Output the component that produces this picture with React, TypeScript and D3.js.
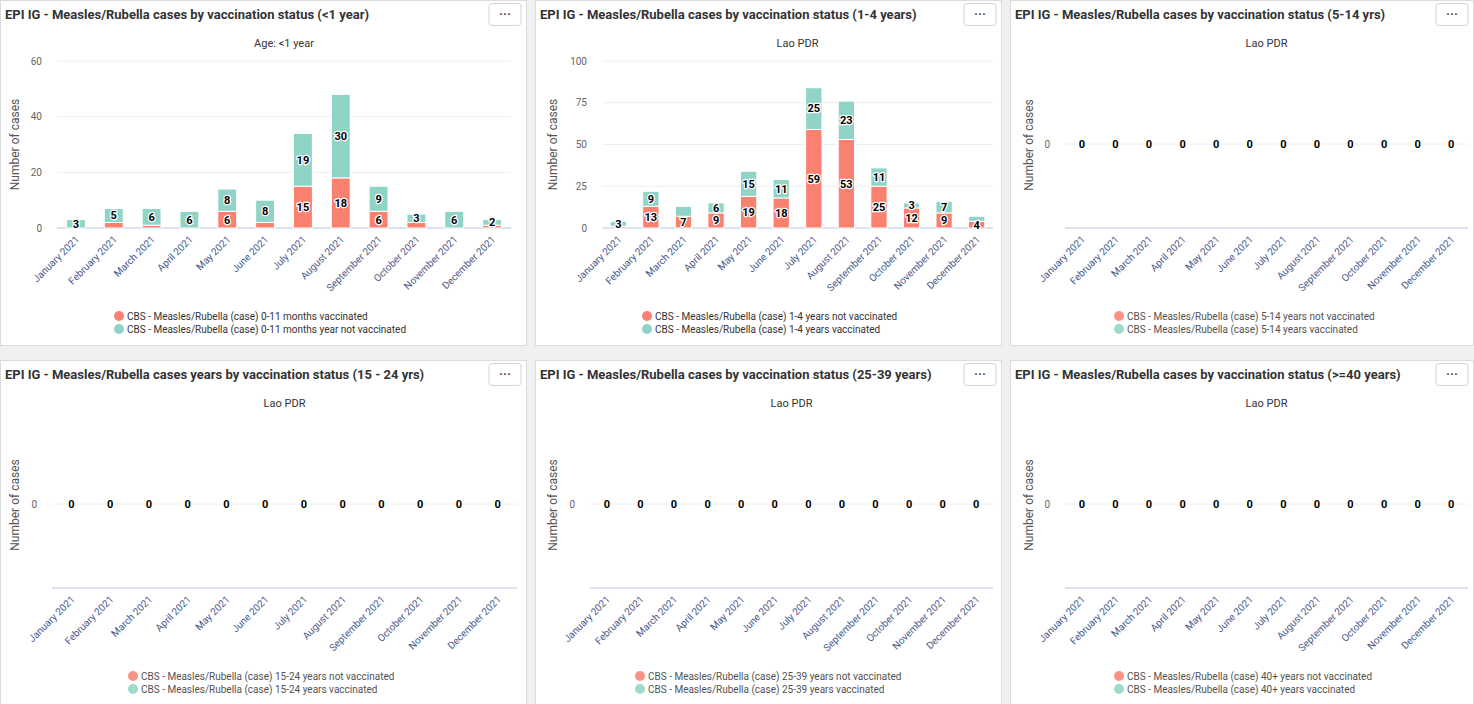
import React from 'react';
import * as d3 from 'd3';

const MONTHS = ['January 2021', 'February 2021', 'March 2021', 'April 2021', 'May 2021', 'June 2021',
  'July 2021', 'August 2021', 'September 2021', 'October 2021', 'November 2021', 'December 2021'];

// <1 year
const lt1Vaccinated = [0, 2, 1, 0, 6, 2, 15, 18, 6, 2, 0, 1];
const lt1NotVaccinated = [3, 5, 6, 6, 8, 8, 19, 30, 9, 3, 6, 2];
const lt1RedLabel = [false, false, false, false, true, false, true, true, true, false, false, false];
const lt1TealLabel = [true, true, true, true, true, true, true, true, true, true, true, true];

// 1-4 years
const y14NotVaccinated = [1, 13, 7, 9, 19, 18, 59, 53, 25, 12, 9, 4];
const y14Vaccinated = [3, 9, 6, 6, 15, 11, 25, 23, 11, 3, 7, 3];
const y14RedLabel = [false, true, true, true, true, true, true, true, true, true, true, true];
const y14TealLabel = [true, true, false, true, true, true, true, true, true, true, true, false];

const ZEROS = MONTHS.map(() => 0);
const NONE = MONTHS.map(() => false);

const RED = '#fa8070';
const TEAL = '#8fd4c6';

type PanelProps = {
  x: number; y: number; w: number; h: number;
  title: string; subtitle: string;
  legend: [string, string];
  red: number[]; teal: number[];
  redLabel: boolean[]; tealLabel: boolean[];
  yMax: number | null; ticks: number[];
  plotLeft: number; plotRight: number; legendX: number; yTitleX: number;
};

const Panel: React.FC<PanelProps> = p => {
  const empty = p.yMax === null;
  const axisY = 228;
  const x = d3.scaleBand<string>().domain(MONTHS).range([p.plotLeft, p.plotRight]).paddingInner(0.5).paddingOuter(0.25);
  const y = empty
    ? d3.scaleLinear().domain([-1, 1]).range([axisY, 60])
    : d3.scaleLinear().domain([0, p.yMax as number]).range([axisY, 61]);
  const plotMidY = empty ? 145 : (axisY + 61) / 2;
  const lbl = (cx: number, cy: number, v: number, key: string) => (
    <text key={key} x={cx} y={cy} dy="0.35em" textAnchor="middle" fontSize={11} fontWeight={700}
      fill="#000" stroke="#fff" strokeWidth={2.5} paintOrder="stroke" strokeLinejoin="round">{v}</text>
  );
  return (
    <g transform={`translate(${p.x},${p.y})`}>
      <rect x={0.5} y={0.5} width={p.w - 1} height={p.h - 1} fill="#fff" stroke="#dcdcdc" />
      <text x={5} y={19} fontSize={13} fontWeight={700} fill="#333">{p.title}</text>
      <rect x={p.w - 38} y={3.5} width={32} height={22} rx={3} fill="#fff" stroke="#d0d3d8" />
      <text x={p.w - 22} y={18} textAnchor="middle" fontSize={13} fontWeight={700} fill="#555">···</text>
      <text x={(p.plotLeft + p.plotRight) / 2} y={47} textAnchor="middle" fontSize={11} fill="#333">{p.subtitle}</text>
      <text transform={`translate(${p.yTitleX},${plotMidY}) rotate(-90)`} textAnchor="middle" fontSize={12} fill="#555">Number of cases</text>
      {p.ticks.map(t => (
        <g key={t}>
          <line x1={p.plotLeft} x2={p.plotRight} y1={y(t)} y2={y(t)} stroke="#eeeeee" />
          <text x={p.plotLeft - 15} y={y(t)} dy="0.35em" textAnchor="end" fontSize={10} fill="#666">{t}</text>
        </g>
      ))}
      <line x1={p.plotLeft} x2={p.plotRight} y1={axisY} y2={axisY} stroke="#dde2ee" strokeWidth={2} />
      {MONTHS.map((m, i) => {
        const bx = x(m) as number;
        const bw = x.bandwidth();
        const cx = bx + bw / 2;
        if (empty) return lbl(cx, y(0), 0, m);
        const r = p.red[i], t = p.teal[i];
        return (
          <g key={m}>
            {r > 0 && <rect x={bx} y={y(r)} width={bw} height={y(0) - y(r)} fill={RED} stroke="#fff" strokeWidth={1} />}
            {t > 0 && <rect x={bx} y={y(r + t)} width={bw} height={y(r) - y(r + t)} fill={TEAL} stroke="#fff" strokeWidth={1} />}
            {p.redLabel[i] && lbl(cx, y(r / 2), r, m + 'r')}
            {p.tealLabel[i] && lbl(cx, y(r + t / 2), t, m + 't')}
          </g>
        );
      })}
      {MONTHS.map(m => {
        const cx = (x(m) as number) + x.bandwidth() / 2;
        return (
          <text key={m} transform={`translate(${cx + 4},${axisY + 12}) rotate(-45)`} textAnchor="end" fontSize={10} fill="#4a5a8c">{m}</text>
        );
      })}
      {p.legend.map((l, i) => (
        <g key={l} opacity={empty ? 0.85 : 1}>
          <circle cx={p.legendX} cy={316 + i * 13} r={5} fill={i === 0 ? RED : TEAL} />
          <text x={p.legendX + 8} y={316 + i * 13} dy="0.35em" fontSize={10} fill="#333">{l}</text>
        </g>
      ))}
    </g>
  );
};

const App: React.FC = () => {
  const cols = [{ x: 0, w: 527 }, { x: 535, w: 467 }, { x: 1010, w: 464 }];
  const top = 0, bottom = 360, h = 346;
  return (
    <div style={{ position: 'fixed', left: 0, top: 0 }}>
      <svg width={1474} height={704} style={{ display: 'block', fontFamily: 'Roboto, sans-serif', background: '#eef0f2' }}>
        <Panel x={cols[0].x} y={top} w={cols[0].w} h={h}
          title="EPI IG - Measles/Rubella cases by vaccination status (<1 year)" subtitle="Age: <1 year"
          legend={['CBS - Measles/Rubella (case) 0-11 months vaccinated', 'CBS - Measles/Rubella (case) 0-11 months year not vaccinated']}
          red={lt1Vaccinated} teal={lt1NotVaccinated} redLabel={lt1RedLabel} tealLabel={lt1TealLabel}
          yMax={60} ticks={[0, 20, 40, 60]} plotLeft={57} plotRight={511} legendX={119} yTitleX={19} />
        <Panel x={cols[1].x} y={top} w={cols[1].w} h={h}
          title="EPI IG - Measles/Rubella cases by vaccination status (1-4 years)" subtitle="Lao PDR"
          legend={['CBS - Measles/Rubella (case) 1-4 years not vaccinated', 'CBS - Measles/Rubella (case) 1-4 years vaccinated']}
          red={y14NotVaccinated} teal={y14Vaccinated} redLabel={y14RedLabel} tealLabel={y14TealLabel}
          yMax={100} ticks={[0, 25, 50, 75, 100]} plotLeft={67} plotRight={458} legendX={112} yTitleX={22} />
        <Panel x={cols[2].x} y={top} w={cols[2].w} h={h}
          title="EPI IG - Measles/Rubella cases by vaccination status (5-14 yrs)" subtitle="Lao PDR"
          legend={['CBS - Measles/Rubella (case) 5-14 years not vaccinated', 'CBS - Measles/Rubella (case) 5-14 years vaccinated']}
          red={ZEROS} teal={ZEROS} redLabel={NONE} tealLabel={NONE}
          yMax={null} ticks={[0]} plotLeft={55} plotRight={458} legendX={109} yTitleX={23} />
        <Panel x={cols[0].x} y={bottom} w={cols[0].w} h={h}
          title="EPI IG - Measles/Rubella cases years by vaccination status (15 - 24 yrs)" subtitle="Lao PDR"
          legend={['CBS - Measles/Rubella (case) 15-24 years not vaccinated', 'CBS - Measles/Rubella (case) 15-24 years vaccinated']}
          red={ZEROS} teal={ZEROS} redLabel={NONE} tealLabel={NONE}
          yMax={null} ticks={[0]} plotLeft={52} plotRight={517} legendX={133} yTitleX={19} />
        <Panel x={cols[1].x} y={bottom} w={cols[1].w} h={h}
          title="EPI IG - Measles/Rubella cases by vaccination status (25-39 years)" subtitle="Lao PDR"
          legend={['CBS - Measles/Rubella (case) 25-39 years not vaccinated', 'CBS - Measles/Rubella (case) 25-39 years vaccinated']}
          red={ZEROS} teal={ZEROS} redLabel={NONE} tealLabel={NONE}
          yMax={null} ticks={[0]} plotLeft={55} plotRight={458} legendX={105} yTitleX={22} />
        <Panel x={cols[2].x} y={bottom} w={cols[2].w} h={h}
          title="EPI IG - Measles/Rubella cases by vaccination status (>=40 years)" subtitle="Lao PDR"
          legend={['CBS - Measles/Rubella (case) 40+ years not vaccinated', 'CBS - Measles/Rubella (case) 40+ years vaccinated']}
          red={ZEROS} teal={ZEROS} redLabel={NONE} tealLabel={NONE}
          yMax={null} ticks={[0]} plotLeft={55} plotRight={458} legendX={109} yTitleX={23} />
      </svg>
    </div>
  );
};

export default App;
